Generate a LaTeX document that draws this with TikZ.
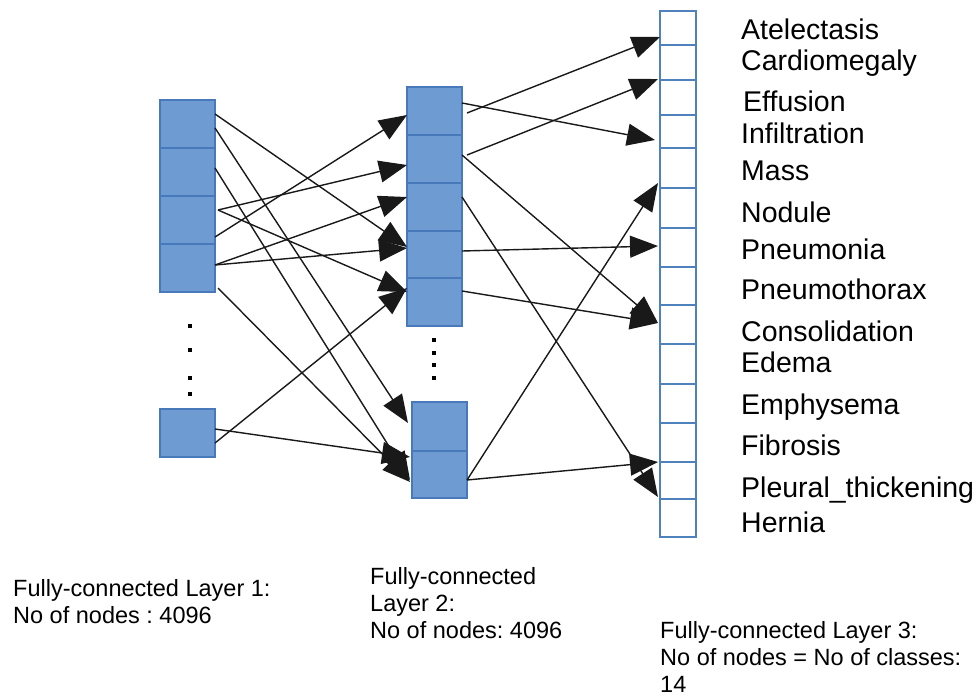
\documentclass[tikz,border=0pt]{standalone}
\usepackage{fontspec}
\setmainfont{Liberation Sans}
\usetikzlibrary{arrows.meta}
\definecolor{unitfill}{RGB}{110,155,209}
\definecolor{unitedge}{RGB}{72,121,187}
\definecolor{celledge}{RGB}{79,129,189}
\definecolor{wirecol}{RGB}{25,25,25}
\frenchspacing

\begin{document}
\begin{tikzpicture}[x=1pt,y=-1pt,
  unit/.style={draw=unitedge, fill=unitfill, line width=1.2pt, minimum width=55pt,
    anchor=north west, inner sep=0pt, outer sep=0pt},
  cell/.style={draw=celledge, fill=white, line width=1.2pt, minimum width=36pt,
    anchor=north west, inner sep=0pt, outer sep=0pt},
  wire/.style={draw=wirecol, line width=1.4pt, -{Triangle[length=28pt,width=22pt]}},
  dotmark/.style={fill=black, minimum size=4pt, inner sep=0pt, outer sep=0pt},
  cls/.style={anchor=base west, inner sep=0pt, font=\fontsize{28.5}{34}\selectfont},
  caption/.style={anchor=north west, inner sep=0pt, align=left,
    font=\fontsize{23.5}{27}\selectfont}]

\useasboundingbox (0,0) rectangle (979,696);

% ---- layer 1 ----
\node[unit, minimum height=48pt] (a1) at (160,100) {};
\node[unit, minimum height=48pt] (a2) at (160,148) {};
\node[unit, minimum height=48pt] (a3) at (160,196) {};
\node[unit, minimum height=48pt] (a4) at (160,244) {};
\node[unit, minimum height=48pt] (a5) at (160,409) {};
\foreach \y [count=\i] in {326,350,378,394}
  \node[dotmark] (da\i) at (190,\y) {};

% ---- layer 2 ----
\node[unit, minimum height=48pt] (b1) at (407,87) {};
\node[unit, minimum height=48pt] (b2) at (407,135) {};
\node[unit, minimum height=48pt] (b3) at (407,183) {};
\node[unit, minimum height=47pt] (b4) at (407,231) {};
\node[unit, minimum height=48pt] (b5) at (407,278) {};
\node[unit, minimum height=49pt] (b6) at (412,402) {};
\node[unit, minimum height=47pt] (b7) at (412,451) {};
\foreach \y [count=\i] in {340,353,365,378}
  \node[dotmark] (db\i) at (434,\y) {};

% ---- layer 3 (one cell per class) ----
\foreach \t/\b [count=\i] in {11/45,45/80,80/115,115/148,148/188,188/228,228/267,
    267/305,305/344,344/384,384/423,423/462,462/499,499/537}
  \node[cell, minimum height={(\b-\t)*1pt}] (c\i) at (660,\t) {};

% ---- class names ----
\node[cls] (n1)  at (741,39)  {Atelectasis};
\node[cls] (n2)  at (741,70)  {Cardiomegaly};
\node[cls] (n3)  at (743,111) {Effusion};
\node[cls] (n4)  at (741,143) {Infiltration};
\node[cls] (n5)  at (741,180) {Mass};
\node[cls] (n6)  at (741,222) {Nodule};
\node[cls] (n7)  at (741,259) {Pneumonia};
\node[cls] (n8)  at (741,299) {Pneumothorax};
\node[cls] (n9)  at (741,341) {Consolidation};
\node[cls] (n10) at (741,372) {Edema};
\node[cls] (n11) at (741,414) {Emphysema};
\node[cls] (n12) at (741,455) {Fibrosis};
\node[cls] (n13) at (741,497) {Pleural\_thickening};
\node[cls] (n14) at (741,532) {Hernia};

% ---- connections layer 1 -> layer 2 ----
\draw[wire] ([yshift=10pt]a1.east)  -- ([yshift=7.5pt]b4.west);
\draw[wire] ([yshift=-4pt]a1.east)  -- ([xshift=-4pt,yshift=3.5pt]b6.west);
\draw[wire] ([yshift=4pt]a2.east)   -- ([xshift=-2pt,yshift=-5.5pt]b7.west);
\draw[wire] ([xshift=3pt,yshift=10pt]a3.east) -- ([yshift=-6pt]b2.west);
\draw[wire] ([xshift=3pt,yshift=10pt]a3.east) -- ([yshift=10pt]b5.west);
\draw[wire] ([yshift=-17pt]a3.east) -- ([yshift=-4pt]b1.west);
\draw[wire] ([yshift=3pt]a4.east)   -- ([yshift=10pt]b3.west);
\draw[wire] ([yshift=3pt]a4.east)   -- ([yshift=6.5pt]b4.west);
\draw[wire] ([xshift=3pt,yshift=-20pt]a4.east) -- ([xshift=-2pt,yshift=-7.5pt]b7.west);
\draw[wire] ([yshift=-10pt]a5.east) -- ([yshift=14pt]b5.west);
\draw[wire] ([yshift=4pt]a5.east)   -- ([xshift=-2pt,yshift=17.5pt]b7.west);

% ---- connections layer 2 -> layer 3 ----
\draw[wire] ([yshift=8pt]b1.east) -- ([xshift=-5pt,yshift=-8.5pt]c4.west);
\draw[wire] ([xshift=5pt,yshift=-2pt]b1.east) -- ([yshift=-9pt]c1.west);
\draw[wire] ([xshift=5pt,yshift=4pt]b2.east) -- ([xshift=-2pt,yshift=-16.5pt]c2.west);
\draw[wire] ([yshift=4pt]b2.east) -- ([xshift=-2pt,yshift=1.5pt]c9.west);
\draw[wire] ([yshift=10pt]b3.east) -- ([xshift=-2pt,yshift=-16.5pt]c13.west);
\draw[wire] ([yshift=3.5pt]b4.east) -- ([xshift=-2pt,yshift=1.5pt]c7.west);
\draw[wire] ([yshift=11pt]b5.east) -- ([xshift=-2pt,yshift=1.5pt]c9.west);
\draw[wire] ([yshift=-5.5pt]b7.east) -- ([xshift=-2pt,yshift=-15pt]c5.west);
\draw[wire] ([yshift=-5.5pt]b7.east) -- ([xshift=-2pt,yshift=-19.5pt]c12.west);

% ---- layer captions ----
\node[caption] (cap1) at (13,579) {Fully-connected Layer 1:\\No of nodes : 4096};
\node[caption] (cap2) at (370,567) {Fully-connected\\Layer 2:\\No of nodes: 4096};
\node[caption] (cap3) at (660,621) {Fully-connected Layer 3:\\No of nodes = No of classes:\\14};

\end{tikzpicture}
\end{document}
